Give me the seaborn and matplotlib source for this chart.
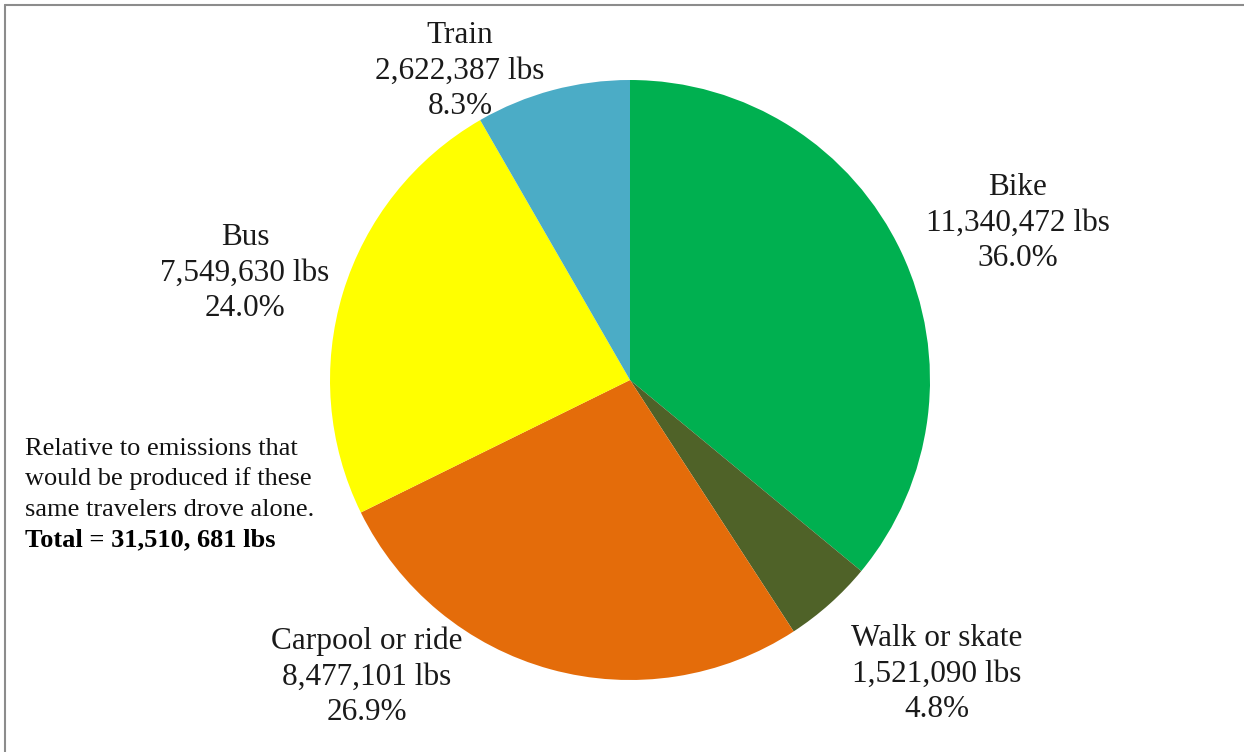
import matplotlib
matplotlib.use("Agg")
import matplotlib.pyplot as plt
import seaborn as sns
from matplotlib.lines import Line2D

sns.set_theme(style="white")
plt.rcParams['font.family'] = ['Liberation Serif', 'DejaVu Serif']

categories = ["Bike", "Walk or skate", "Carpool or ride", "Bus", "Train"]
values = [11340472, 1521090, 8477101, 7549630, 2622387]
percents = ["36.0%", "4.8%", "26.9%", "24.0%", "8.3%"]
value_labels = ["11,340,472 lbs", "1,521,090 lbs", "8,477,101 lbs", "7,549,630 lbs", "2,622,387 lbs"]
colors = ["#00B050", "#4F6228", "#E46C0A", "#FFFF00", "#4BACC6"]
note_lines = ["Relative to emissions that", "would be produced if these",
              "same travelers drove alone."]
total_line = "Total = 31,510, 681 lbs"

W, H = 1244, 752
fig = plt.figure(figsize=(W / 100, H / 100), dpi=100)
ax = fig.add_axes([0, 0, 1, 1])

ax.pie(values, colors=colors, startangle=90, counterclock=False,
       center=(630, H - 380), radius=300, frame=True,
       wedgeprops=dict(linewidth=0))
ax.set_xlim(0, W)
ax.set_ylim(0, H)
ax.set_aspect("equal")
ax.axis("off")

label_pos = [(1018, 223), (937, 674), (367, 677), (245, 273), (460, 71)]
for cat, vl, pc, (x, y) in zip(categories, value_labels, percents, label_pos):
    ax.text(x, H - y, f"{cat}\n{vl}\n{pc}", ha="center", va="center",
            fontsize=22.5, color="#1a1a1a", linespacing=1.29)

note_y = [449, 479, 510]
for line, y in zip(note_lines, note_y):
    ax.text(25, H - y, line, ha="left", va="center",
            fontsize=19, color="#111111")
ax.text(25, H - 540, total_line, ha="left", va="center",
        fontsize=19, color="#000000", fontweight="bold")

fig.add_artist(Line2D([5 / W, 1], [1 - 5 / H, 1 - 5 / H], transform=fig.transFigure,
                      color="#8c8c8c", linewidth=1.5))
fig.add_artist(Line2D([5 / W, 5 / W], [0, 1 - 5 / H], transform=fig.transFigure,
                      color="#8c8c8c", linewidth=1.5))

fig.savefig("out.png", dpi=100, facecolor="white")
